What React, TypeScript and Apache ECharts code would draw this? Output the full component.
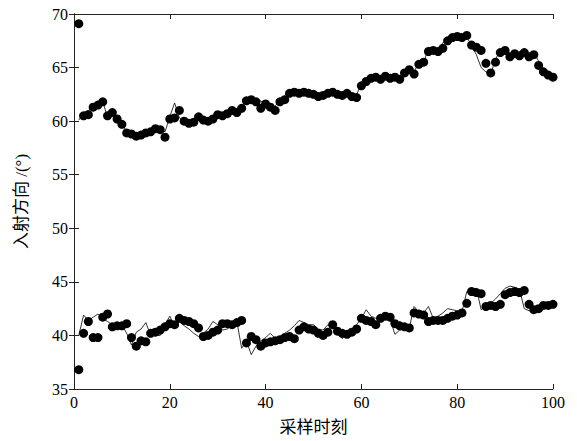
import React, { useEffect, useRef } from "react";
import * as echarts from "echarts";

const xTicks = [0, 20, 40, 60, 80, 100];

const upperMeasured = [
  69.1, 60.5, 60.6, 61.3, 61.5, 61.8, 60.5, 60.8, 60.2, 59.7,
  58.9, 58.8, 58.6, 58.7, 58.9, 59.0, 59.3, 59.2, 58.5, 60.2,
  60.3, 61.0, 60.0, 59.8, 59.9, 60.4, 60.1, 60.0, 60.2, 60.6,
  60.5, 60.7, 61.0, 60.8, 61.2, 61.9, 62.0, 61.8, 61.2, 61.6,
  61.3, 61.0, 61.8, 62.0, 62.6, 62.7, 62.6, 62.7, 62.6, 62.5,
  62.3, 62.4, 62.6, 62.7, 62.5, 62.4, 62.6, 62.3, 62.2, 63.3,
  63.7, 64.0, 64.1, 63.9, 64.2, 64.0, 64.1, 63.9, 64.5, 64.8,
  64.4, 65.3, 65.5, 66.5, 66.6, 66.5, 66.8, 67.5, 67.8, 67.9,
  67.8, 68.0, 67.1, 66.9, 66.6, 65.4, 64.5, 65.5, 66.4, 66.6,
  66.0, 66.3, 66.1, 66.4, 66.0, 66.2, 65.2, 64.6, 64.3, 64.1,
];

const upperTrue = [
  60.1, 60.8, 61.0, 61.2, 61.6, 61.9, 60.3, 60.9, 60.5, 59.8,
  59.0, 58.8, 58.8, 58.8, 59.0, 59.1, 59.3, 59.4, 59.0, 60.4,
  61.7, 60.3, 60.0, 59.9, 60.0, 60.5, 60.2, 60.1, 60.3, 60.8,
  60.6, 60.8, 61.2, 60.9, 61.3, 62.1, 62.0, 61.7, 61.9, 61.4,
  61.2, 61.4, 62.0, 62.4, 62.8, 62.8, 62.7, 62.8, 62.9, 62.5,
  62.2, 62.4, 62.8, 62.9, 62.6, 62.3, 62.8, 62.4, 62.5, 63.5,
  63.8, 64.1, 64.3, 64.0, 64.3, 64.1, 64.2, 64.0, 64.8, 65.0,
  64.6, 65.5, 65.4, 66.9, 66.7, 66.7, 67.3, 67.8, 67.9, 68.1,
  68.0, 67.9, 67.0, 66.2, 65.0, 64.6, 64.4, 65.8, 66.6, 66.7,
  66.2, 66.5, 66.3, 66.5, 66.2, 66.4, 65.6, 64.8, 64.4, 64.2,
];

const lowerMeasured = [
  36.8, 40.2, 41.3, 39.8, 39.8, 41.7, 42.0, 40.8, 40.9, 40.9,
  41.1, 39.8, 39.0, 39.5, 39.4, 40.2, 40.3, 40.5, 40.8, 41.1,
  41.0, 41.6, 41.4, 41.3, 41.1, 40.7, 39.9, 40.0, 40.3, 40.5,
  41.1, 41.1, 41.0, 41.2, 41.4, 39.3, 39.9, 39.6, 39.0, 39.3,
  39.4, 39.5, 39.6, 39.8, 39.9, 39.7, 40.5, 40.8, 40.6, 40.5,
  40.2, 40.0, 40.3, 41.0, 40.4, 40.2, 40.1, 40.3, 40.6, 41.6,
  41.4, 41.3, 41.0, 41.6, 41.8, 41.7, 41.1, 40.9, 40.8, 40.7,
  42.1, 42.0, 41.9, 41.3, 41.4, 41.4, 41.4, 41.6, 41.8, 41.9,
  42.1, 43.0, 44.1, 44.0, 43.9, 42.7, 42.8, 42.7, 42.9, 43.8,
  44.0, 44.1, 44.0, 44.2, 42.9, 42.4, 42.5, 42.8, 42.8, 42.9,
];

const lowerTrue = [
  40.0, 41.9, 41.4, 41.7, 42.0, 41.6, 41.3, 41.0, 41.0, 41.0,
  40.2, 39.1, 40.3, 40.6, 41.2, 40.0, 40.0, 40.0, 41.0, 41.8,
  40.8, 41.3, 40.9, 40.6, 40.2, 39.9, 40.2, 40.6, 41.3, 41.0,
  40.5, 40.6, 40.9, 41.3, 38.8, 39.5, 38.2, 39.0, 39.5, 39.8,
  40.2, 39.7, 39.9, 40.2, 40.5, 40.9, 41.4, 41.2, 41.0, 41.0,
  40.6, 40.5, 41.0, 40.8, 40.4, 39.7, 40.2, 40.5, 41.0, 41.6,
  42.4, 41.8, 41.6, 41.6, 41.6, 41.5, 40.1, 40.5, 40.6, 40.7,
  42.7, 42.2, 42.1, 42.7, 41.6, 41.8, 42.1, 42.5, 42.4, 42.3,
  42.2, 44.1, 44.3, 44.4, 42.4, 42.8, 43.0, 43.4, 43.9, 44.4,
  44.6, 44.5, 44.3, 42.5, 42.3, 42.2, 42.4, 42.6, 42.5, 42.9,
];

const toPairs = (arr: number[]) => arr.map((v, i) => [i + 1, v]);

export default function App() {
  const ref = useRef<HTMLDivElement>(null);
  useEffect(() => {
    if (!ref.current) return;
    const chart = echarts.init(ref.current, null, { renderer: "svg" });
    const serif = "'Liberation Serif', 'Times New Roman', serif";
    const cjk = "'Liberation Serif', 'Noto Sans CJK SC', serif";
    const axisLine = { show: true, lineStyle: { color: "#222", width: 1 } };
    const tick = { show: true, inside: true, length: 5, lineStyle: { color: "#222" } };
    const dotStyle = {
      type: "scatter",
      symbol: "circle",
      symbolSize: 9,
      itemStyle: { color: "#000", opacity: 1 },
      z: 3,
    };
    const lineStyle = {
      type: "line",
      showSymbol: false,
      symbol: "none",
      lineStyle: { color: "#000", width: 0.8 },
      z: 2,
    };
    chart.setOption({
      animation: false,
      backgroundColor: "#fff",
      grid: { left: 74, right: 24, top: 14, bottom: 52, containLabel: false },
      xAxis: [
        {
          type: "value",
          min: 0,
          max: 100,
          interval: 20,
          position: "bottom",
          name: "采样时刻",
          nameLocation: "middle",
          nameGap: 30,
          nameTextStyle: { fontFamily: cjk, fontSize: 17, color: "#000" },
          axisLine,
          axisTick: tick,
          splitLine: { show: false },
          axisLabel: {
            fontFamily: serif,
            fontSize: 16,
            color: "#000",
            margin: 5,
            formatter: (v: number) => (xTicks.includes(v) ? String(v) : ""),
          },
        },
        {
          type: "value",
          min: 0,
          max: 100,
          interval: 20,
          position: "top",
          axisLine,
          axisTick: tick,
          axisLabel: { show: false },
          splitLine: { show: false },
        },
      ],
      yAxis: [
        {
          type: "value",
          min: 35,
          max: 70,
          interval: 5,
          position: "left",
          name: "入射方向 /(°)",
          nameLocation: "middle",
          nameRotate: 90,
          nameGap: 44,
          nameTextStyle: { fontFamily: cjk, fontSize: 17, color: "#000" },
          axisLine,
          axisTick: tick,
          splitLine: { show: false },
          axisLabel: { fontFamily: serif, fontSize: 16, color: "#000", margin: 6 },
        },
        {
          type: "value",
          min: 35,
          max: 70,
          interval: 5,
          position: "right",
          axisLine,
          axisTick: tick,
          axisLabel: { show: false },
          splitLine: { show: false },
        },
      ],
      series: [
        { ...lineStyle, name: "upperTrue", data: toPairs(upperTrue) },
        { ...lineStyle, name: "lowerTrue", data: toPairs(lowerTrue) },
        { ...dotStyle, name: "upperMeasured", data: toPairs(upperMeasured) },
        { ...dotStyle, name: "lowerMeasured", data: toPairs(lowerMeasured) },
      ],
    });
    return () => chart.dispose();
  }, []);
  return (
    <div
      ref={ref}
      style={{ position: "fixed", left: 0, top: 0, width: 577, height: 441 }}
    />
  );
}
